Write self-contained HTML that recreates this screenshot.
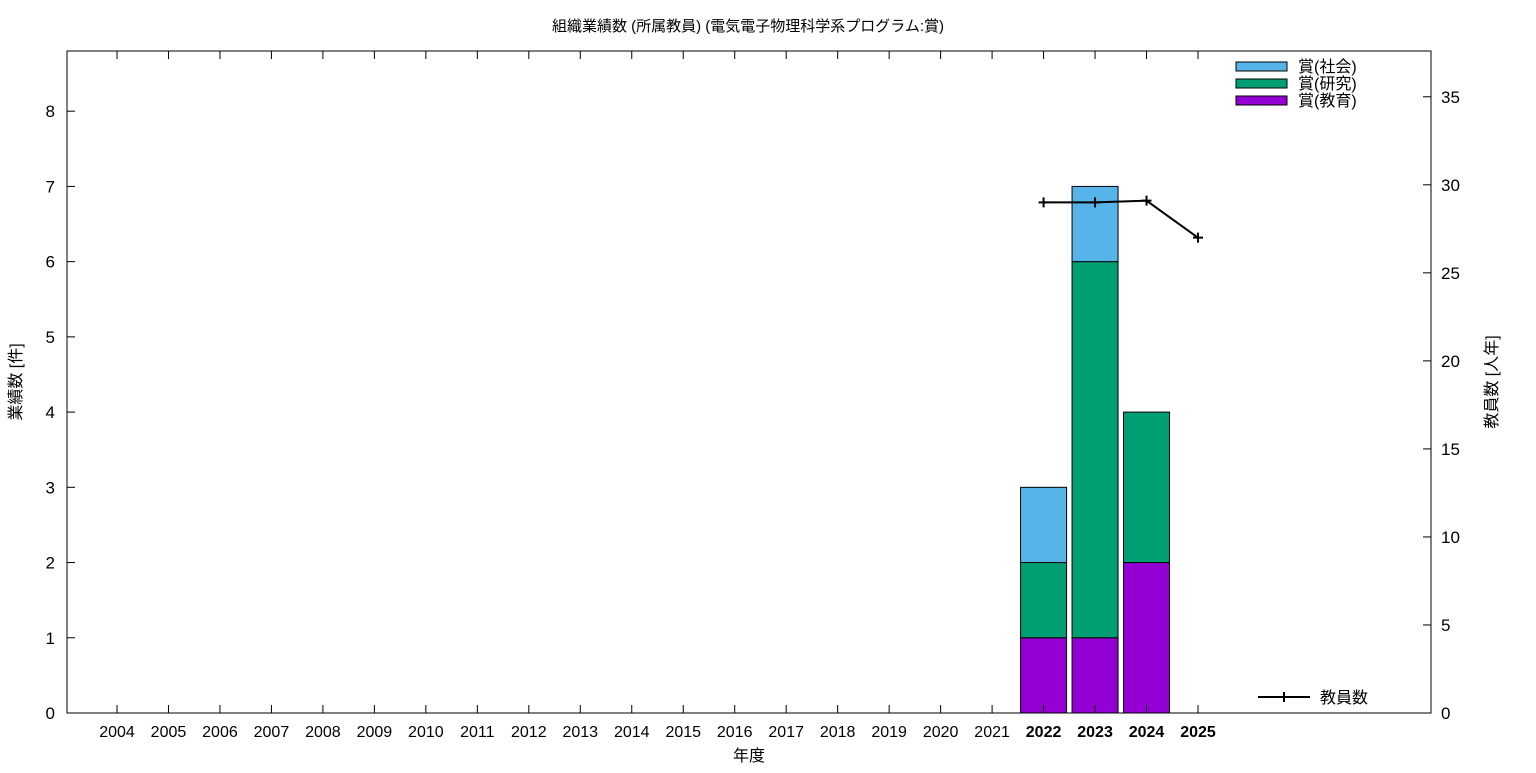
<!DOCTYPE html>
<html><head><meta charset="utf-8"><style>
body{margin:0;background:#fff}
svg text{font-family:"Liberation Sans","Noto Sans CJK JP",sans-serif;fill:#000}
</style></head><body>
<svg id="c" width="1536" height="768" xmlns="http://www.w3.org/2000/svg"></svg>
<script>
const years=["2004","2005","2006","2007","2008","2009","2010","2011","2012","2013","2014","2015","2016","2017","2018","2019","2020","2021","2022","2023","2024","2025"];
const eduVals=[0,0,0,0,0,0,0,0,0,0,0,0,0,0,0,0,0,0,1,1,2,0];
const resVals=[0,0,0,0,0,0,0,0,0,0,0,0,0,0,0,0,0,0,1,5,2,0];
const socVals=[0,0,0,0,0,0,0,0,0,0,0,0,0,0,0,0,0,0,1,1,0,0];
const staffYears=["2022","2023","2024","2025"];
const staffVals=[29,29,29.1,27];
const yTicks=[0,1,2,3,4,5,6,7,8];
const y2Ticks=[0,5,10,15,20,25,30,35];
const NS="http://www.w3.org/2000/svg";
const svg=document.getElementById('c');
const L=67,R=1431,T=51,B=713;
const X=i=>117+(i)*(1198-117)/21;
const Y=v=>B-(v/8.8)*(B-T);
const Y2=v=>B-(v/37.6)*(B-T);
function el(t,a,p){const e=document.createElementNS(NS,t);for(const k in a)e.setAttribute(k,a[k]);(p||svg).appendChild(e);return e;}
function tx(x,y,s,anchor,size){const e=el('text',{x:x,y:y,'text-anchor':anchor||'middle','font-size':size||16});e.textContent=s;return e;}
// bars
const bw=46;
years.forEach((yr,i)=>{
  const segs=[[eduVals[i],'#9400d3','bar-education'],[resVals[i],'#009e73','bar-research'],[socVals[i],'#56b4e9','bar-society']];
  let base=0;
  segs.forEach(s=>{if(s[0]>0){const r=el('rect',{x:X(i)-bw/2,y:Y(base+s[0]),width:bw,height:Y(base)-Y(base+s[0]),fill:s[1],stroke:'#000','stroke-width':1});
    
    }
    base+=s[0];});
});
// frame
const f=el('rect',{x:L,y:T,width:R-L,height:B-T,fill:'none',stroke:'#000','stroke-width':1});

yTicks.forEach(v=>{el('line',{x1:L,x2:L+8,y1:Y(v),y2:Y(v),stroke:'#000'});const t=tx(L-12,Y(v)+6,String(v),'end',17);
  });
y2Ticks.forEach(v=>{el('line',{x1:R-8,x2:R,y1:Y2(v),y2:Y2(v),stroke:'#000'});const t=tx(R+10,Y2(v)+6,String(v),'start',17);
  });
years.forEach((yr,i)=>{el('line',{x1:X(i),x2:X(i),y1:B,y2:B-8,stroke:'#000'});el('line',{x1:X(i),x2:X(i),y1:T,y2:T+8,stroke:'#000'});
  const t=tx(X(i),737,yr,'middle',16);if(i>=18)t.setAttribute('font-weight','bold');
  });
// line
const pts=staffYears.map((y,k)=>[X(years.indexOf(y)),Y2(staffVals[k])]);
const pl=el('polyline',{points:pts.map(p=>p.join(',')).join(' '),fill:'none',stroke:'#000','stroke-width':2});

pts.forEach(p=>{el('line',{x1:p[0]-5,x2:p[0]+5,y1:p[1],y2:p[1],stroke:'#000','stroke-width':2});el('line',{x1:p[0],x2:p[0],y1:p[1]-5,y2:p[1]+5,stroke:'#000','stroke-width':2});});
</script>
<svg width="1536" height="768" style="position:absolute;left:0;top:0" xmlns="http://www.w3.org/2000/svg">
<text x="748" y="31" text-anchor="middle" font-size="15">組織業績数 (所属教員) (電気電子物理科学系プログラム:賞)</text>
<text x="749" y="761" text-anchor="middle" font-size="16">年度</text>
<text transform="translate(21,382) rotate(-90)" text-anchor="middle" font-size="16">業績数 [件]</text>
<text transform="translate(1497,382) rotate(-90)" text-anchor="middle" font-size="16">教員数 [人年]</text>
<g font-size="16">
<rect x="1236" y="62" width="51" height="9" fill="#56b4e9" stroke="#000"/>
<text x="1298" y="72" font-size="16">賞(社会)</text>
<rect x="1236" y="79" width="51" height="9" fill="#009e73" stroke="#000"/>
<text x="1298" y="89" font-size="16">賞(研究)</text>
<rect x="1236" y="96" width="51" height="9" fill="#9400d3" stroke="#000"/>
<text x="1298" y="106" font-size="16">賞(教育)</text>
<line x1="1258" x2="1310" y1="697" y2="697" stroke="#000" stroke-width="2"/>
<line x1="1284" x2="1284" y1="692" y2="702" stroke="#000" stroke-width="2"/>
<text x="1320" y="703" font-size="16">教員数</text>
</g>
</svg>
</body></html>
